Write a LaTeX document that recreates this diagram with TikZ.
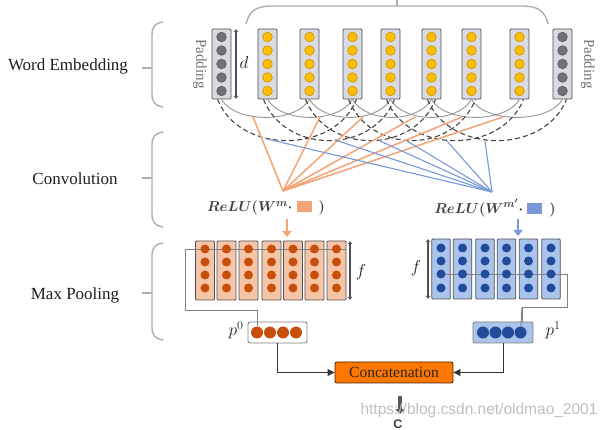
\documentclass[tikz,border=0pt]{standalone}
\usepackage{fontspec}
\setmainfont{Liberation Serif}
\setsansfont{Liberation Sans}
\usetikzlibrary{arrows.meta}
\definecolor{bracegray}{RGB}{172,175,182}
\definecolor{colfill}{RGB}{216,219,225}
\definecolor{colborder}{RGB}{80,80,86}
\definecolor{ydot}{RGB}{255,190,0}
\definecolor{ydotb}{RGB}{200,145,0}
\definecolor{gdot}{RGB}{112,112,118}
\definecolor{oline}{RGB}{244,164,116}
\definecolor{bline}{RGB}{122,152,214}
\definecolor{ofill}{RGB}{246,196,166}
\definecolor{odot}{RGB}{200,78,12}
\definecolor{bfill}{RGB}{170,196,236}
\definecolor{bdot}{RGB}{35,75,155}
\definecolor{concatfill}{RGB}{255,118,0}
\definecolor{txt}{RGB}{30,30,30}
\definecolor{arcgray}{RGB}{150,150,150}
\definecolor{dashgray}{RGB}{70,70,70}
\begin{document}
\begin{tikzpicture}[x=1pt,y=-1pt,
  lbl/.style={font=\fontsize{17}{20}\selectfont, text=txt, inner sep=0},
  bracepath/.style={draw=bracegray, line width=1.4pt},
  embcol/.style={rectangle, draw=colborder, fill=colfill, line width=0.8pt, minimum width=19pt, minimum height=70pt, inner sep=0, rounded corners=1pt},
  yd/.style={circle, inner sep=0, minimum size=9.6pt, fill=ydot, draw=ydotb, line width=0.6pt},
  gd/.style={circle, inner sep=0, minimum size=9.6pt, fill=gdot, draw=gdot!80!black, line width=0.6pt},
  solidarc/.style={draw=arcgray, line width=0.9pt},
  dasharc/.style={draw=dashgray, line width=1.1pt, dash pattern=on 5pt off 3pt},
  oconn/.style={draw=oline, line width=1.5pt},
  bconn/.style={draw=bline, line width=1.1pt},
  relu/.style={font=\fontsize{15.5}{19}\selectfont\boldmath, text=txt!85, inner sep=0},
  ocol/.style={rectangle, draw=colborder, fill=ofill, line width=0.8pt, minimum width=19pt, minimum height=59pt, inner sep=0, rounded corners=1pt},
  bcol/.style={rectangle, draw=colborder, fill=bfill, line width=0.8pt, minimum width=18.5pt, minimum height=60pt, inner sep=0, rounded corners=1pt},
  od/.style={circle, inner sep=0, minimum size=9pt, fill=odot},
  bd/.style={circle, inner sep=0, minimum size=9pt, fill=bdot},
  pod/.style={circle, inner sep=0, minimum size=12pt, fill=odot},
  pbd/.style={circle, inner sep=0, minimum size=12pt, fill=bdot},
  poolline/.style={draw=gray, line width=0.9pt},
  fbar/.style={draw=colborder, line width=2pt, {Latex[length=3pt,width=5pt]}-{Latex[length=3pt,width=5pt]}},
  mathlbl/.style={font=\fontsize{17}{20}\selectfont, text=txt, inner sep=0},
  pboxo/.style={rectangle, draw=gray, fill=white, line width=0.9pt, minimum width=59pt, minimum height=21pt, inner sep=0, rounded corners=2pt},
  pboxb/.style={rectangle, draw=gray, fill=bfill, line width=0.9pt, minimum width=60pt, minimum height=21pt, inner sep=0, rounded corners=2pt},
  conn/.style={draw=black!80, line width=0.9pt, -{Triangle[length=7pt,width=7pt]}},
  concatbox/.style={rectangle, draw=black!70!concatfill, fill=concatfill, line width=0.9pt, minimum width=118pt, minimum height=21pt, inner sep=0, rounded corners=2pt, font=\fontsize{15.5}{18}\selectfont, text=black!85},
  oarrow/.style={draw=oline, line width=2.6pt, -{Triangle[length=6pt,width=9pt]}},
  barrow/.style={draw=bline, line width=2.6pt, -{Triangle[length=6pt,width=9pt]}},
  botarrow/.style={draw=black!65, line width=4.5pt, -{Triangle[length=5pt,width=9pt]}},
  padlbl/.style={font=\fontsize{15}{18}\selectfont, text=black!55, inner sep=0, rotate=-90},
  wm/.style={font=\sffamily\fontsize{15.5}{18}\selectfont, text=black!25, inner sep=0}
]
\fill[white] (0,0) rectangle (608,430);
\useasboundingbox (0,0) rectangle (608,430);

% ---- layer labels and braces ----
\node[lbl] (we) at (68,66) {Word Embedding};
\node[lbl] (cv) at (75,179) {Convolution};
\node[lbl] (mp) at (75,295) {Max Pooling};
\foreach \t/\b/\m in {22/107/68, 132/227/178, 243/340/293} {
  \draw[bracepath] (163,\t) .. controls (155,\t+1) and (152,\t+5) .. (152,\t+13) -- (152,\b-13) .. controls (152,\b-5) and (155,\b-1) .. (163,\b);
  \draw[bracepath] (142,\m) -- (152,\m);
}
% top brace
\draw[bracepath] (246,24) .. controls (249,11) and (256,6) .. (272,6) -- (522,6) .. controls (538,6) and (545,11) .. (548,24);
\draw[bracepath] (397,6) -- (397,-2);

% ---- embedding columns ----
\foreach \x [count=\i from 0] in {221.5,267.5,309.5,352.5,390.5,431.5,471.5,519.5,562.5} {
  \node[embcol] (e\i) at (\x,64) {};
}
\foreach \i/\x in {0/221.5, 8/562.5} {
  \foreach \y [count=\j] in {37,50.5,64,77.5,91} \node[gd] (e\i d\j) at (\x,\y) {};
}
\foreach \i/\x in {1/267.5,2/309.5,3/352.5,4/390.5,5/431.5,6/471.5,7/519.5} {
  \foreach \y [count=\j] in {37,50.5,64,77.5,91} \node[yd] (e\i d\j) at (\x,\y) {};
}
\node[padlbl] (padl) at (200,64) {Padding};
\node[padlbl] (padr) at (588,64) {Padding};
\coordinate (dtop) at (236,29);
\coordinate (dbot) at (236,99);
\draw[fbar, line width=1.4pt] (dtop) -- (dbot);
\node[mathlbl] (dl) at (244,63) {$d$};

% ---- window arcs ----
\foreach \a/\b in {0/2,1/3,2/4,3/5,4/6,5/7,6/8}
  \draw[solidarc] (e\a.south) .. controls +(14,24) and +(-14,24) .. (e\b.south);
\foreach \a/\b in {0/3,1/4,2/5,3/6,4/7,5/8}
  \draw[dasharc] ([xshift=-4pt]e\a.south) .. controls +(22,55) and +(-22,55) .. ([xshift=4pt]e\b.south);

% ---- convolution connectors ----
\coordinate (om) at (283,191);
\coordinate (bm) at (492,192);
\foreach \x [count=\k] in {253,320,363,415,462,503} {
  \coordinate (o\k) at (\x,117);
  \draw[oconn] (om) -- (o\k);
}
\foreach \x/\y [count=\k] in {267/139,335/140,380/141,407/141,447/141,485/141} {
  \coordinate (b\k) at (\x,\y);
  \draw[bconn] (bm) -- (b\k);
}

% ---- ReLU labels ----
\node[relu] (r0) at (266,208) {$ReLU(W^{m}\cdot$\;\textcolor{oline}{\rule[-0.5pt]{15pt}{11pt}}\;\,$)$};
\node[relu] (r1) at (495,208) {$ReLU(W^{m'}\cdot$\;\textcolor{bline}{\rule[-0.5pt]{15pt}{11pt}}\;\,$)$};
\coordinate (oa1) at (287,219);
\coordinate (oa2) at (287,237);
\coordinate (ba1) at (518,219);
\coordinate (ba2) at (518,236);
\draw[oarrow] (oa1) -- (oa2);
\draw[barrow] (ba1) -- (ba2);

% ---- orange feature map ----
\foreach \x [count=\i] in {205,226.5,248.5,271.5,293,314.5,336.5}
  \node[ocol] (oc\i) at (\x,270.5) {};
\coordinate (ol1) at (346,249);
\coordinate (ol2) at (185,249);
\coordinate (ol3) at (185,310);
\coordinate (ol4) at (257,310);
\coordinate (ol5) at (257,326);
\draw[poolline] (ol1) -- (ol2) -- (ol3) -- (ol4) -- (ol5);
\foreach \x [count=\i] in {205,226.5,248.5,271.5,293,314.5,336.5}
  \foreach \y [count=\j] in {249,262,275,288} \node[od] (oc\i d\j) at (\x,\y) {};
\coordinate (of1) at (350,241);
\coordinate (of2) at (350,300);
\draw[fbar] (of1) -- (of2);
\node[mathlbl] (fo) at (361,272) {$f$};

% ---- blue feature map ----
\foreach \x [count=\i] in {441,462.5,485,506.5,528.5,551}
  \node[bcol] (bc\i) at (\x,269) {};
\coordinate (bl1) at (440,274);
\coordinate (bl2) at (567,274);
\coordinate (bl3) at (567,307);
\coordinate (bl4) at (522,307);
\coordinate (bl5) at (522,326);
\draw[poolline] (bl1) -- (bl2) -- (bl3) -- (bl4) -- (bl5);
\foreach \x [count=\i] in {441,462.5,485,506.5,528.5,551}
  \foreach \y [count=\j] in {248,261,274,288} \node[bd] (bc\i d\j) at (\x,\y) {};
\coordinate (bf1) at (428,239);
\coordinate (bf2) at (428,299);
\draw[fbar] (bf1) -- (bf2);
\node[mathlbl] (fb) at (416,268) {$f$};

% ---- pooled vectors ----
\node[pboxo] (p0) at (277.5,332.5) {};
\foreach \x [count=\k] in {257,270,283,296} \node[pod] (p0d\k) at (\x,332.5) {};
\node[mathlbl] (p0l) at (236,330) {$p^0$};
\draw[poolline] (ol4) -- (p0d1);
\node[pboxb] (p1) at (503,332.5) {};
\foreach \x [count=\k] in {483,495.5,508,520.5} \node[pbd] (p1d\k) at (\x,332.5) {};
\node[mathlbl] (p1l) at (553,330) {$p^1$};
\draw[poolline] (bl4) -- (p1d4);

% ---- concatenation ----
\node[concatbox] (cc) at (394,372.5) {Concatenation};
\draw[conn] (p0.south) |- (cc.west);
\draw[conn] (p1.south) |- (cc.east);
\coordinate (ca1) at (400,396);
\coordinate (ca2) at (400,414);
\draw[botarrow] (ca1) -- (ca2);
\node[font=\sffamily\bfseries\fontsize{12.5}{15}\selectfont, text=black!75, inner sep=0] (cl) at (398,424.5) {C};

% ---- watermark ----
\node[wm] (wmk) at (479,410) {https://blog.csdn.net/oldmao\_2001};
\end{tikzpicture}
\end{document}
